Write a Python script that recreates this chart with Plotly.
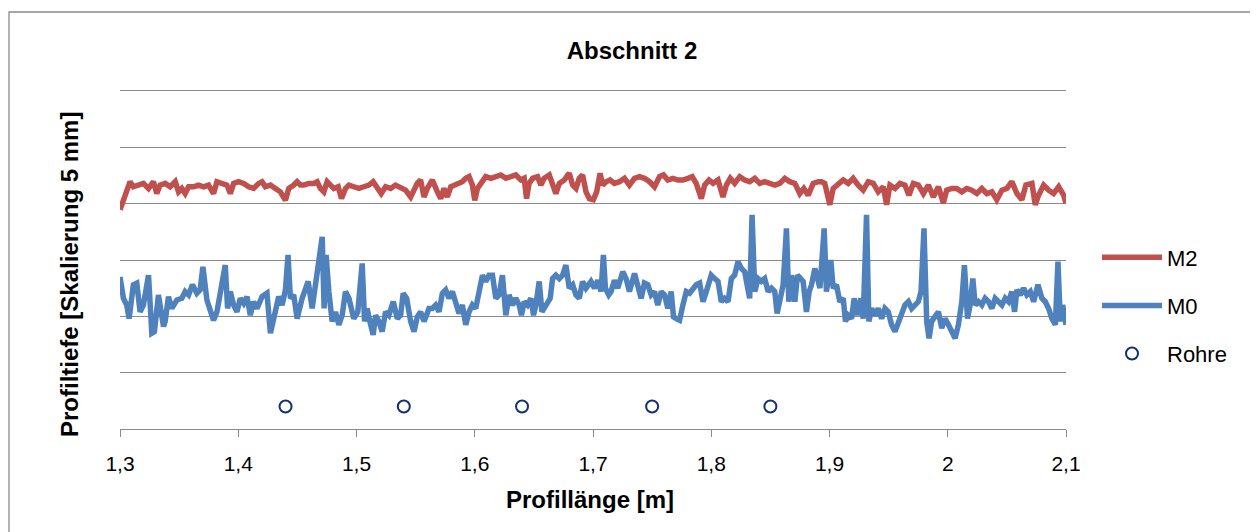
import plotly.graph_objects as go

# ---------------- data ----------------
m0_x = [1.3000, 1.3029, 1.3057, 1.3077, 1.3113, 1.3142, 1.3170, 1.3198, 1.3241, 1.3269,
        1.3291, 1.3325, 1.3368, 1.3382, 1.3410, 1.3438, 1.3481, 1.3523, 1.3551, 1.3580,
        1.3613, 1.3650, 1.3678, 1.3701, 1.3735, 1.3763, 1.3791, 1.3820, 1.3848, 1.3890,
        1.3910, 1.3933, 1.3961, 1.3989, 1.4017, 1.4046, 1.4074, 1.4102, 1.4130, 1.4159,
        1.4201, 1.4243, 1.4272, 1.4308, 1.4342, 1.4371, 1.4399, 1.4421, 1.4441, 1.4469,
        1.4498, 1.4540, 1.4591, 1.4625, 1.4667, 1.4710, 1.4726, 1.4743, 1.4766, 1.4794,
        1.4822, 1.4851, 1.4879, 1.4907, 1.4936,
        1.4977, 1.5011, 1.5048, 1.5068, 1.5090, 1.5113, 1.5141, 1.5161, 1.5189, 1.5217,
        1.5246, 1.5274, 1.5311, 1.5345, 1.5373, 1.5395, 1.5424, 1.5458, 1.5486, 1.5514,
        1.5542, 1.5571, 1.5613, 1.5641, 1.5669, 1.5698, 1.5726, 1.5754, 1.5782, 1.5811,
        1.5839, 1.5867, 1.5895, 1.5924, 1.5952, 1.5980, 1.6008, 1.6037, 1.6065, 1.6093,
        1.6121, 1.6150, 1.6178, 1.6206, 1.6234, 1.6263, 1.6291, 1.6319, 1.6347, 1.6376,
        1.6395, 1.6418, 1.6446, 1.6475, 1.6497, 1.6517, 1.6545, 1.6568, 1.6602, 1.6638,
        1.6658, 1.6686, 1.6715, 1.6743, 1.6771, 1.6799, 1.6828, 1.6856, 1.6884, 1.6912,
        1.6941, 1.6983, 1.7012, 1.7040, 1.7068, 1.7088, 1.7105, 1.7133, 1.7153, 1.7181,
        1.7209, 1.7252, 1.7280, 1.7308, 1.7351, 1.7379, 1.7407, 1.7435, 1.7464, 1.7492,
        1.7520, 1.7548, 1.7577, 1.7605, 1.7633, 1.7661, 1.7681, 1.7704, 1.7732, 1.7760,
        1.7789, 1.7817, 1.7845, 1.7873, 1.7902, 1.7930, 1.7958, 1.8000, 1.8029, 1.8057,
        1.8085, 1.8113, 1.8142, 1.8170, 1.8198, 1.8226, 1.8255, 1.8283, 1.8303, 1.8325,
        1.8345, 1.8368, 1.8396, 1.8424, 1.8452, 1.8481, 1.8509, 1.8537, 1.8557, 1.8580,
        1.8608, 1.8636, 1.8656, 1.8678, 1.8707, 1.8729, 1.8749, 1.8777, 1.8805, 1.8828,
        1.8848, 1.8876, 1.8899, 1.8919,
        1.8955, 1.8974, 1.8994, 1.9011, 1.9031, 1.9059, 1.9087, 1.9116, 1.9135, 1.9158,
        1.9186, 1.9209, 1.9237, 1.9265, 1.9285, 1.9313, 1.9333, 1.9356, 1.9384, 1.9412,
        1.9441, 1.9469, 1.9497, 1.9525, 1.9554, 1.9582, 1.9610, 1.9638, 1.9667, 1.9695,
        1.9723, 1.9751, 1.9774, 1.9799, 1.9822, 1.9842, 1.9864, 1.9893, 1.9921, 1.9949,
        1.9977, 2.0006, 2.0034, 2.0062, 2.0090, 2.0119, 2.0141, 2.0167, 2.0189, 2.0212,
        2.0232, 2.0260, 2.0288, 2.0316, 2.0345, 2.0373, 2.0401, 2.0429, 2.0458, 2.0486,
        2.0514, 2.0542, 2.0565, 2.0585, 2.0613, 2.0641, 2.0669, 2.0698, 2.0726, 2.0763,
        2.0796, 2.0825, 2.0853, 2.0881, 2.0910, 2.0932, 2.0952, 2.0972, 2.0994, 2.1000]
m0_y = [2.70, 2.32, 2.20, 1.96, 2.56, 2.59, 2.08, 2.20, 2.73, 1.70,
        1.73, 2.38, 1.82, 1.91, 2.35, 2.14, 2.29, 2.32, 2.44, 2.38,
        2.56, 2.41, 2.47, 2.88, 2.29, 2.14, 1.93, 2.08, 2.38, 2.91,
        2.14, 2.44, 2.20, 2.08, 2.32, 2.23, 2.35, 2.02, 2.26, 2.14,
        2.35, 2.41, 1.70, 2.08, 2.35, 2.20, 2.47, 3.09, 2.32, 2.38,
        1.96, 2.32, 2.62, 2.14, 2.73, 3.41, 2.14, 3.09, 2.44, 1.91,
        2.08, 1.85, 2.02, 2.44, 2.32,
        1.96, 2.08, 2.94, 1.91, 2.14, 1.91, 1.67, 2.02, 1.91, 1.73,
        2.08, 2.02, 2.26, 1.96, 2.02, 2.41, 2.32, 1.91, 1.73, 1.99,
        2.08, 1.91, 2.14, 2.14, 2.20, 2.08, 2.41, 2.47, 2.32, 2.44,
        2.20, 2.05, 2.20, 1.85, 2.08, 2.20, 2.14, 2.44, 2.73, 2.62,
        2.73, 2.73, 2.32, 2.38, 2.73, 2.02, 2.38, 2.20, 2.32, 2.20,
        2.02, 2.26, 2.20, 2.32, 2.02, 2.20, 2.62, 2.08, 2.20, 2.32,
        2.67, 2.73, 2.67, 2.73, 2.91, 2.50, 2.56, 2.38, 2.32, 2.62,
        2.50, 2.62, 2.50, 2.64, 2.44, 3.09, 2.50, 2.38, 2.44, 2.64,
        2.50, 2.79, 2.67, 2.44, 2.76, 2.56, 2.32, 2.59, 2.56, 2.38,
        2.44, 2.20, 2.44, 2.38, 2.14, 2.44, 1.99, 1.96, 1.93, 2.20,
        2.44, 2.41, 2.50, 2.56, 2.59, 2.26, 2.44, 2.73, 2.67, 2.62,
        2.26, 2.32, 2.26, 2.67, 2.73, 2.97, 2.85, 2.79, 2.56, 2.32,
        3.80, 2.44, 2.67, 2.62, 2.67, 2.44, 2.50, 2.44, 2.05, 2.32,
        2.56, 3.56, 2.26, 2.73, 2.26, 2.73, 2.67, 2.62, 2.08, 2.44,
        2.56, 2.85, 2.67, 2.50,
        3.56, 2.44, 2.73, 3.00, 2.50, 2.56, 2.26, 2.32, 1.91, 2.02,
        1.96, 2.32, 2.02, 2.32, 1.96, 3.80, 1.91, 2.14, 2.02, 2.14,
        1.96, 2.14, 2.08, 1.85, 1.73, 1.91, 2.08, 2.20, 2.26, 2.14,
        2.20, 2.26, 2.44, 3.56, 1.91, 1.61, 1.91, 2.02, 2.08, 1.79,
        1.96, 1.85, 1.73, 1.61, 1.85, 2.26, 2.91, 1.96, 2.20, 2.67,
        2.20, 2.26, 2.20, 2.32, 2.26, 2.14, 2.32, 2.26, 2.20, 2.32,
        2.26, 2.44, 2.08, 2.47, 2.38, 2.50, 2.38, 2.44, 2.26, 2.56,
        2.32, 2.26, 2.14, 1.96, 1.85, 2.97, 1.91, 2.20, 1.96, 1.85]

m2_x = [1.3000, 1.3043, 1.3071, 1.3085, 1.3113, 1.3156, 1.3198, 1.3241, 1.3283, 1.3311,
        1.3339, 1.3382, 1.3424, 1.3467, 1.3495, 1.3523, 1.3551, 1.3580, 1.3622, 1.3664,
        1.3707, 1.3749, 1.3791, 1.3820, 1.3862, 1.3904, 1.3933, 1.3961, 1.4003, 1.4046,
        1.4088, 1.4130, 1.4173, 1.4201, 1.4229, 1.4272, 1.4314, 1.4356, 1.4399, 1.4427,
        1.4469, 1.4498, 1.4526, 1.4554, 1.4596, 1.4639, 1.4667, 1.4695, 1.4724, 1.4752,
        1.4780, 1.4808, 1.4845, 1.4873, 1.4907, 1.4936,
        1.4977, 1.5020, 1.5062, 1.5104, 1.5141, 1.5175, 1.5209, 1.5246, 1.5288, 1.5330,
        1.5373, 1.5415, 1.5458, 1.5486, 1.5514, 1.5542, 1.5571, 1.5599, 1.5641, 1.5684,
        1.5712, 1.5740, 1.5768, 1.5797, 1.5839, 1.5867, 1.5895, 1.5924, 1.5952, 1.5980,
        1.6000, 1.6023, 1.6065, 1.6093, 1.6136, 1.6178, 1.6220, 1.6263, 1.6305, 1.6347,
        1.6390, 1.6418, 1.6438, 1.6460, 1.6489, 1.6531, 1.6559, 1.6587, 1.6630, 1.6658,
        1.6686, 1.6715, 1.6757, 1.6799, 1.6828, 1.6856, 1.6884, 1.6912,
        1.6941, 1.6969, 1.7003, 1.7031, 1.7060, 1.7082, 1.7111, 1.7144, 1.7181, 1.7224,
        1.7266, 1.7308, 1.7351, 1.7393, 1.7435, 1.7478, 1.7520, 1.7563, 1.7596, 1.7633,
        1.7675, 1.7718, 1.7760, 1.7803, 1.7839, 1.7873, 1.7916, 1.7944, 1.7981, 1.8015,
        1.8057, 1.8099, 1.8128, 1.8161, 1.8198, 1.8241, 1.8283, 1.8325, 1.8368, 1.8410,
        1.8452, 1.8495, 1.8537, 1.8580, 1.8622, 1.8664, 1.8707, 1.8749, 1.8783, 1.8820,
        1.8862, 1.8905,
        1.8932, 1.8960, 1.9003, 1.9031, 1.9073, 1.9116, 1.9158, 1.9200, 1.9243, 1.9285,
        1.9328, 1.9370, 1.9412, 1.9455, 1.9483, 1.9511, 1.9554, 1.9596, 1.9638, 1.9672,
        1.9709, 1.9751, 1.9794, 1.9836, 1.9878, 1.9921, 1.9963, 1.9991, 2.0034, 2.0076,
        2.0119, 2.0161, 2.0203, 2.0246, 2.0288, 2.0330, 2.0373, 2.0415, 2.0458, 2.0500,
        2.0542, 2.0585, 2.0627, 2.0661, 2.0712, 2.0740, 2.0768, 2.0811, 2.0853, 2.0895,
        2.0938, 2.0980, 2.1000]
m2_y = [3.89, 4.18, 4.33, 4.39, 4.30, 4.33, 4.36, 4.27, 4.39, 4.18,
        4.33, 4.36, 4.30, 4.39, 4.21, 4.27, 4.18, 4.30, 4.30, 4.33,
        4.30, 4.33, 4.18, 4.39, 4.36, 4.33, 4.18, 4.36, 4.39, 4.36,
        4.30, 4.27, 4.36, 4.39, 4.30, 4.33, 4.27, 4.21, 4.06, 4.27,
        4.33, 4.39, 4.33, 4.33, 4.36, 4.36, 4.39, 4.27, 4.21, 4.39,
        4.33, 4.27, 4.30, 4.09, 4.27, 4.33,
        4.30, 4.27, 4.30, 4.33, 4.39, 4.27, 4.18, 4.30, 4.27, 4.33,
        4.27, 4.24, 4.12, 4.24, 4.36, 4.42, 4.12, 4.27, 4.42, 4.21,
        4.09, 4.27, 4.12, 4.30, 4.33, 4.36, 4.39, 4.45, 4.48, 4.33,
        4.06, 4.27, 4.39, 4.48, 4.45, 4.48, 4.51, 4.45, 4.48, 4.51,
        4.42, 4.45, 4.09, 4.36, 4.45, 4.48, 4.33, 4.45, 4.51, 4.30,
        4.18, 4.36, 4.42, 4.54, 4.33, 4.27, 4.45, 4.51,
        4.21, 4.09, 4.07, 4.21, 4.54, 4.33, 4.39, 4.42, 4.36, 4.39,
        4.45, 4.33, 4.45, 4.48, 4.45, 4.39, 4.30, 4.48, 4.51, 4.42,
        4.45, 4.42, 4.42, 4.45, 4.48, 4.36, 4.09, 4.33, 4.42, 4.36,
        4.42, 4.12, 4.33, 4.45, 4.36, 4.48, 4.42, 4.39, 4.45, 4.36,
        4.39, 4.36, 4.33, 4.36, 4.45, 4.39, 4.36, 4.18, 4.27, 4.15,
        4.36, 4.39,
        4.39, 4.36, 3.98, 4.27, 4.33, 4.42, 4.36, 4.45, 4.33, 4.24,
        4.39, 4.36, 4.21, 4.30, 3.98, 4.33, 4.27, 4.36, 4.33, 4.15,
        4.36, 4.33, 4.18, 4.33, 4.12, 4.30, 4.01, 4.24, 4.27, 4.27,
        4.21, 4.27, 4.24, 4.18, 4.27, 4.18, 4.21, 4.07, 4.24, 4.27,
        4.39, 4.18, 4.07, 4.33, 4.36, 3.98, 4.15, 4.33, 4.24, 4.18,
        4.30, 4.15, 4.01]

rohre_x = [1.44, 1.54, 1.64, 1.75, 1.85]
rohre_y = [0.4, 0.4, 0.4, 0.4, 0.4]

series_names = ["M2", "M0", "Rohre"]
chart_title = "Abschnitt 2"
x_title = "Profillänge [m]"
y_title = "Profiltiefe [Skalierung 5 mm]"

# ---------------- figure ----------------
FONT = "Liberation Sans"
GRID = "#8a8a8a"
OFF = 8  # page body margin of the browser

fig = go.Figure()
fig.add_trace(go.Scatter(x=m2_x, y=m2_y, mode="lines", name=series_names[0],
                         line=dict(color="#C0504D", width=5.5), legendgroup="a"))
fig.add_trace(go.Scatter(x=m0_x, y=m0_y, mode="lines", name=series_names[1],
                         line=dict(color="#4F81BD", width=5.5), legendgroup="b"))
fig.add_trace(go.Scatter(x=rohre_x, y=rohre_y, mode="markers", name=series_names[2],
                         marker=dict(symbol="circle-open", size=12, color="#14306E",
                                     line=dict(width=2, color="#14306E")),
                         legendgroup="c"))

W, H = 1258 - OFF, 532 - OFF
L, T = 120 - OFF, 91 - OFF
R = W - (1066 - OFF)
B = H - (429 - OFF)
pw, ph = W - L - R, H - T - B

def px_x(px):
    return (px - OFF - L) / pw

def px_y(py):
    return (H - B - (py - OFF)) / ph

fig.update_layout(
    width=W, height=H,
    margin=dict(l=L, r=R, t=T, b=B, pad=0),
    paper_bgcolor="white", plot_bgcolor="white",
    separators=", ",
    font=dict(family=FONT, color="black", size=21),
    title=dict(text="<b>" + chart_title + "</b>", font=dict(family=FONT, size=24, color="black"),
               x=(632 - OFF) / W, xanchor="center", xref="container",
               y=1 - (51 - OFF) / H, yanchor="middle", yref="container"),
    xaxis=dict(range=[1.3, 2.1], dtick=0.1, tick0=1.3, showgrid=False, zeroline=False,
               showline=True, linecolor=GRID, linewidth=1.4, mirror=True,
               ticks="outside", ticklen=7, tickwidth=1.4, tickcolor=GRID,
               ticklabelstandoff=9,
               tickfont=dict(family=FONT, size=21, color="black")),
    yaxis=dict(range=[0, 6], dtick=1, tick0=0, showgrid=True, gridcolor=GRID, gridwidth=1.3,
               zeroline=False, showline=False, showticklabels=False, ticks=""),
    legend=dict(x=px_x(1097), y=px_y(236.5), xanchor="left", yanchor="top",
                font=dict(family=FONT, size=22, color="black"),
                bgcolor="rgba(0,0,0,0)", tracegroupgap=16.5, itemwidth=60,
                traceorder="grouped"),
    showlegend=True,
    annotations=[
        dict(text="<b>" + x_title + "</b>", xref="paper", yref="paper",
             x=px_x(590), y=px_y(499), xanchor="center", yanchor="middle",
             showarrow=False, font=dict(family=FONT, size=24, color="black")),
        dict(text="<b>" + y_title + "</b>", xref="paper", yref="paper",
             x=px_x(69), y=px_y(275), xanchor="center", yanchor="middle", textangle=-90,
             showarrow=False, font=dict(family=FONT, size=24, color="black")),
    ],
    shapes=[dict(type="rect", xref="paper", yref="paper",
                 x0=px_x(9), x1=px_x(1255), y0=px_y(545), y1=px_y(12),
                 line=dict(color="#8a8a8a", width=1.3), fillcolor="rgba(0,0,0,0)",
                 layer="below")],
)

fig.write_html("out.html")
